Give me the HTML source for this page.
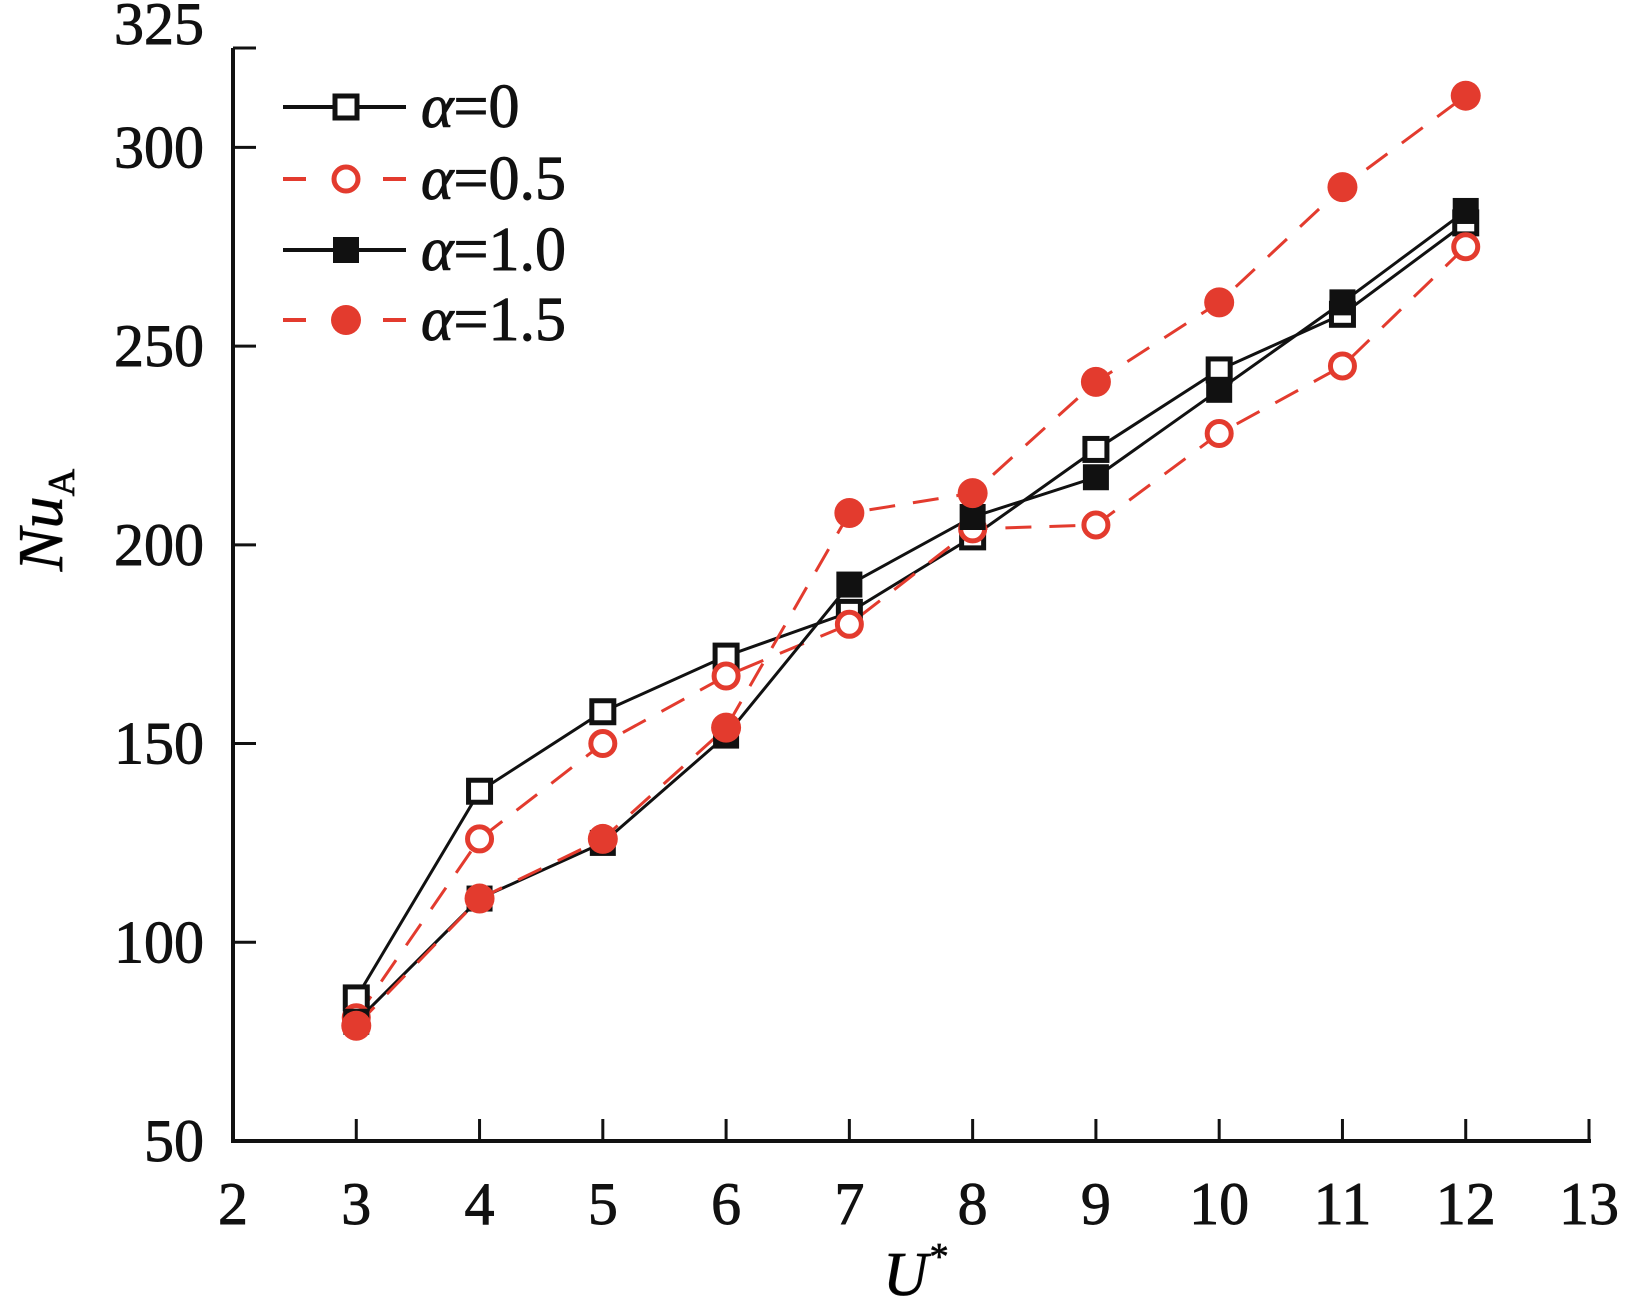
<!DOCTYPE html>
<html><head><meta charset="utf-8"><style>
html,body{margin:0;padding:0;background:#fff;}
svg{display:block;font-family:"Liberation Serif",serif;}
</style></head><body>
<svg id="chart" width="1630" height="1313" viewBox="0 0 1630 1313">
<g id="axes"></g>
<g id="series"></g>
<g id="legend"></g>
<text x="915" y="1295" font-size="62" font-style="italic" text-anchor="middle" stroke="#111" stroke-width="0.8">U<tspan font-size="38" dy="-26">*</tspan></text>
<text transform="translate(62,520) rotate(-90)" font-size="64" font-style="italic" text-anchor="middle" stroke="#111" stroke-width="0.8">Nu<tspan font-size="38" font-style="normal" dy="12">A</tspan></text>
</svg>
<script>
const categories=[3,4,5,6,7,8,9,10,11,12];
const s0=[86,138,158,172,183,202,224,244,258,281];
const s05=[81,126,150,167,180,204,205,228,245,275];
const s10=[80,111,125,152,190,207,217,239,261,284];
const s15=[79,111,126,154,208,213,241,261,290,313];
const xTicks=[2,3,4,5,6,7,8,9,10,11,12,13];
const yTicks=[50,100,150,200,250,300,325];
const NS="http://www.w3.org/2000/svg";
const X=v=>233+(v-2)*((1589-233)/11);
const Y=v=>1141-(v-50)*((1141-48)/275);
function mk(t,a,p){const e=document.createElementNS(NS,t);for(const k in a)e.setAttribute(k,a[k]);p.appendChild(e);return e;}
const ax=document.getElementById('axes');
let l=mk('line',{x1:233,y1:Y(325),x2:233,y2:1141,stroke:'#111','stroke-width':4},ax);


l=mk('line',{x1:231,y1:1141,x2:X(13)+2,y2:1141,stroke:'#111','stroke-width':4},ax);


xTicks.forEach(v=>{
 if(v>2){const t=mk('line',{x1:X(v),y1:1141,x2:X(v),y2:1119,stroke:'#111','stroke-width':3},ax);
 
 }
 const tx=mk('text',{x:X(v),y:1224,'font-size':60,'text-anchor':'middle',fill:'#111',stroke:'#111','stroke-width':0.9},ax);tx.textContent=v;
 
 
});
yTicks.forEach(v=>{
 if(v>50){const t=mk('line',{x1:233,y1:Y(v),x2:256,y2:Y(v),stroke:'#111','stroke-width':3},ax);
 
 }
 const tx=mk('text',{x:204,y:Y(v)+(v==325?-4:20),'font-size':60,'text-anchor':'end',fill:'#111',stroke:'#111','stroke-width':0.9},ax);tx.textContent=v;
 
 
});
const RED='#e33b2e';
const defs=[
 {name:'alpha-0',vals:s0,color:'#111',dash:null,shape:'sq',fill:false,label:'=0'},
 {name:'alpha-0.5',vals:s05,color:RED,dash:'26,18',shape:'ci',fill:false,label:'=0.5'},
 {name:'alpha-1.0',vals:s10,color:'#111',dash:null,shape:'sq',fill:true,label:'=1.0'},
 {name:'alpha-1.5',vals:s15,color:RED,dash:'26,18',shape:'ci',fill:true,label:'=1.5'}];
const sg=document.getElementById('series');
function marker(d,x,y,p){
 let m;
 if(d.shape=='sq'){m=d.fill?mk('rect',{x:x-13,y:y-13,width:26,height:26,fill:d.color},p):mk('rect',{x:x-11,y:y-11,width:22,height:22,fill:'#fff',stroke:d.color,'stroke-width':5},p);}
 else{m=d.fill?mk('circle',{cx:x,cy:y,r:15,fill:d.color},p):mk('circle',{cx:x,cy:y,r:12,fill:'#fff',stroke:d.color,'stroke-width':5},p);}
 return m;
}
defs.forEach(d=>{
 const pts=categories.map((c,i)=>X(c)+','+Y(d.vals[i])).join(' ');
 const a={points:pts,fill:'none',stroke:d.color,'stroke-width':3};
 if(d.dash)a['stroke-dasharray']=d.dash;
 const pl=mk('polyline',a,sg);
 
 
});
defs.forEach(d=>{
 categories.forEach((c,i)=>{
  const m=marker(d,X(c),Y(d.vals[i]),sg);
  
  
 });
});
const lg=document.getElementById('legend');
const ly=[107,179,250,320];
defs.forEach((d,i)=>{
 const y=ly[i];
 const g=mk('g',{},lg);
 
 
 if(d.dash){mk('line',{x1:283,y1:y,x2:306,y2:y,stroke:d.color,'stroke-width':4},g);mk('line',{x1:383,y1:y,x2:406,y2:y,stroke:d.color,'stroke-width':4},g);}
 else mk('line',{x1:283,y1:y,x2:406,y2:y,stroke:d.color,'stroke-width':4},g);
 marker(d,346,y,g);
 const t=mk('text',{x:421,y:y+20,'font-size':62,fill:'#111',stroke:'#111','stroke-width':0.9},g);
 t.innerHTML='<tspan font-style="italic">α</tspan>'+d.label;
});
</script>
</body></html>
